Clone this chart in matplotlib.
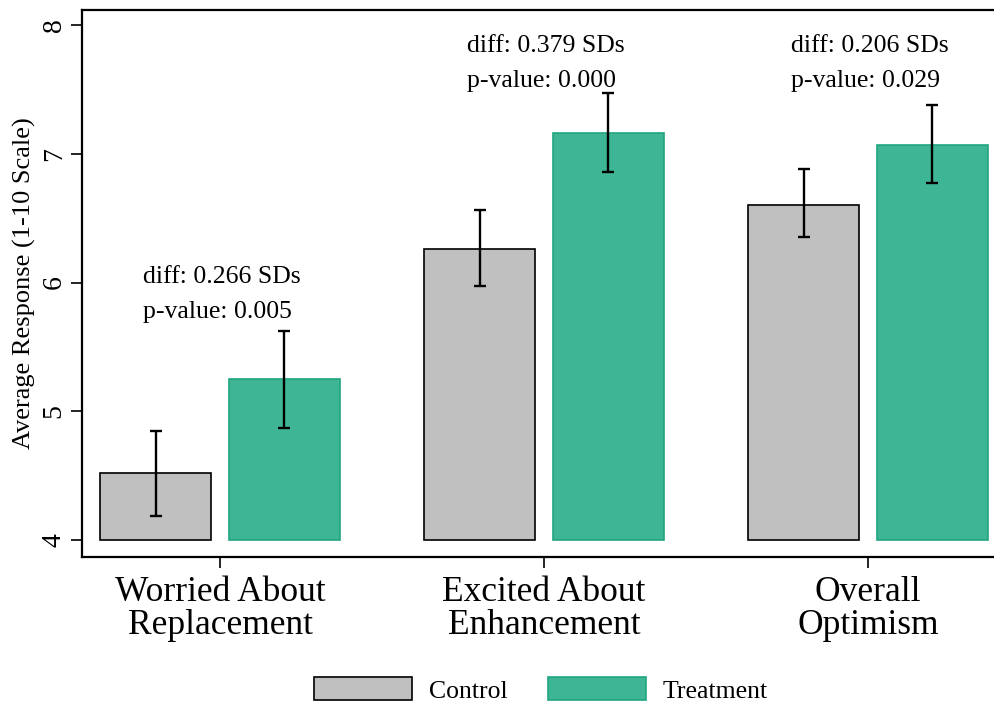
import matplotlib.pyplot as plt
import numpy as np

# data
categories = ['Worried About\nReplacement', 'Excited About\nEnhancement', 'Overall\nOptimism']
control = [4.52, 6.26, 6.60]
control_lo = [4.19, 5.97, 6.35]
control_hi = [4.85, 6.56, 6.88]
treatment = [5.25, 7.16, 7.07]
treatment_lo = [4.87, 6.86, 6.77]
treatment_hi = [5.62, 7.47, 7.38]
diffs = ['0.266', '0.379', '0.206']
pvals = ['0.005', '0.000', '0.029']
label_y = [6.00, 7.79, 7.79]

plt.rcParams['font.family'] = ['Liberation Serif', 'DejaVu Serif']

fig = plt.figure(figsize=(9.95, 7.05), dpi=100)
ax = fig.add_axes([0.0824, 0.2099, 0.9176, 0.7759])

x = np.arange(len(categories))
w = 0.343
off = 0.199
base = 4

ax.bar(x - off, np.array(control) - base, w, bottom=base, color='#c0c0c0',
       edgecolor='black', linewidth=1.2, label='Control')
ax.bar(x + off, np.array(treatment) - base, w, bottom=base, color='#3eb696',
       edgecolor='#1fa57f', linewidth=1.2, label='Treatment')

c_err = [np.array(control) - np.array(control_lo), np.array(control_hi) - np.array(control)]
t_err = [np.array(treatment) - np.array(treatment_lo), np.array(treatment_hi) - np.array(treatment)]
ax.errorbar(x - off, control, yerr=c_err, fmt='none', ecolor='black',
            elinewidth=1.7, capsize=4.6, capthick=1.7)
ax.errorbar(x + off, treatment, yerr=t_err, fmt='none', ecolor='black',
            elinewidth=1.7, capsize=4.6, capthick=1.7)

# diff / p-value annotations above each pair
for i in range(len(categories)):
    ax.text(x[i] - 0.237, label_y[i], 'diff: %s SDs' % diffs[i], fontsize=18.5,
            ha='left', va='baseline')
    ax.text(x[i] - 0.237, label_y[i] - 0.272, 'p-value: %s' % pvals[i], fontsize=18.5,
            ha='left', va='baseline')

ax.set_xlim(-0.426, 2.392)
ax.set_ylim(3.868, 8.117)
ax.set_yticks([4, 5, 6, 7, 8])
ax.set_xticks(x)
ax.set_xticklabels(categories, fontsize=25.5, linespacing=0.97)
for t in ax.get_yticklabels():
    t.set_rotation(90)
    t.set_va('center')
    t.set_fontsize(20)
ax.set_ylabel('Average Response (1-10 Scale)', fontsize=19)
ax.yaxis.set_label_coords(-0.0504, 0.5)
ax.tick_params(axis='both', direction='out', length=8, width=1.2)
ax.tick_params(axis='y', pad=3)
ax.tick_params(axis='x', pad=6)
ax.spines['right'].set_visible(False)
for s in ['left', 'top', 'bottom']:
    ax.spines[s].set_linewidth(1.6)

fig.legend(loc='center', bbox_to_anchor=(0.5437, 0.0213), ncol=2, frameon=False,
           fontsize=18.5, handlelength=3.8, handleheight=1.0, columnspacing=1.6,
           handletextpad=0.66)

fig.savefig('out.png', dpi=100)
